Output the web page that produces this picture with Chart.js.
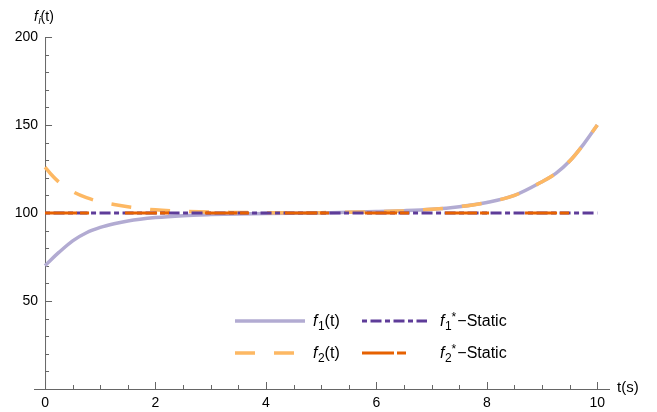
<!DOCTYPE html>
<html>
<head>
<meta charset="utf-8">
<script src="https://cdn.jsdelivr.net/npm/chart.js@4.4.0/dist/chart.umd.min.js"></script>
<style>
  html, body { margin: 0; padding: 0; background: #fff; }
  #wrap { width: 657px; height: 412px; position: relative; }
</style>
</head>
<body>
<div id="wrap"><canvas id="chart" width="657" height="412"></canvas></div>
<script>
// data
const tValues   = [0, 0.1, 0.25, 0.5, 0.75, 1, 1.25, 1.5, 2, 2.5, 3, 3.5, 4, 5, 6, 6.5, 7, 7.5, 8, 8.5, 9, 9.25, 9.5, 9.75, 10];
const f1Values  = [70, 73.2, 77.6, 84.2, 88.8, 91.8, 93.9, 95.5, 97.4, 98.5, 99.1, 99.5, 99.75, 100.05, 100.8, 101.3, 102.1, 103.6, 106, 110, 117.8, 122.5, 129.5, 139, 150];
const f2Values  = [126, 122.3, 117.6, 112.2, 108.7, 106.4, 104.8, 103.5, 101.8, 101, 100.5, 100.3, 100.15, 100.2, 100.8, 101.3, 102.1, 103.6, 106, 110, 117.8, 122.5, 129.5, 139, 150];
const staticT   = [0, 10];
const f1Static  = [100, 100];
const f2Static  = [100, 100];
const xTickLabels = [0, 2, 4, 6, 8, 10];
const yTickLabels = [50, 100, 150, 200];

const FONT = '"Liberation Sans", Arial, sans-serif';
const AXIS_COLOR = '#666666';

function pts(xs, ys) {
  return xs.map((x, i) => ({ x: x, y: ys[i] }));
}

// axes drawn Mathematica style: through the origin, ticks pointing inward
const axesPlugin = {
  id: 'mmaAxes',
  beforeDatasetsDraw(chart) {
    const ctx = chart.ctx;
    const xs = chart.scales.x, ys = chart.scales.y;
    const area = chart.chartArea;
    const y0 = ys.getPixelForValue(0);
    const x0 = xs.getPixelForValue(0);
    ctx.save();
    ctx.strokeStyle = AXIS_COLOR;
    ctx.lineWidth = 1;
    ctx.beginPath();
    ctx.moveTo(area.left, y0 + 0.5);
    ctx.lineTo(area.right, y0 + 0.5);
    ctx.moveTo(x0 + 0.5, y0);
    ctx.lineTo(x0 + 0.5, ys.getPixelForValue(200));
    // x ticks every 0.5
    for (let v = 0; v <= 10; v += 0.5) {
      const px = Math.round(xs.getPixelForValue(v)) + 0.5;
      const len = xTickLabels.includes(v) ? 7 : 4;
      ctx.moveTo(px, y0);
      ctx.lineTo(px, y0 - len);
    }
    // y ticks every 10
    for (let v = 0; v <= 200; v += 10) {
      const py = Math.round(ys.getPixelForValue(v)) + 0.5;
      const len = v % 50 === 0 ? 7 : 4;
      ctx.moveTo(x0, py);
      ctx.lineTo(x0 + len, py);
    }
    ctx.stroke();

    ctx.fillStyle = '#000';
    ctx.font = '14px ' + FONT;
    ctx.textAlign = 'center';
    ctx.textBaseline = 'top';
    xTickLabels.forEach(v => ctx.fillText(String(v), xs.getPixelForValue(v), y0 + 7));
    ctx.textAlign = 'right';
    ctx.textBaseline = 'middle';
    yTickLabels.forEach(v => ctx.fillText(String(v), x0 - 7, ys.getPixelForValue(v)));

    // axis titles
    ctx.textAlign = 'left';
    ctx.font = '15px ' + FONT;
    ctx.fillText('t(s)', 617, y0 - 1);
    drawLabel(ctx, 34, 17, 'i', '', '(t)', 14);
    ctx.restore();
  }
};

function drawLabel(ctx, x, y, sub, sup, tail, size) {
  ctx.textAlign = 'left';
  ctx.textBaseline = 'middle';
  ctx.font = 'italic ' + size + 'px ' + FONT;
  ctx.fillText('f', x, y);
  x += ctx.measureText('f').width + 0.5;
  ctx.font = (sub === 'i' ? 'italic ' : '') + Math.round(size * 0.72) + 'px ' + FONT;
  ctx.fillText(sub, x, y + size * 0.28);
  x += ctx.measureText(sub).width;
  if (sup) {
    ctx.fillText(sup, x, y - size * 0.3);
    x += ctx.measureText(sup).width + 1;
  }
  ctx.font = size + 'px ' + FONT;
  ctx.fillText(tail, x, y);
}

// two-column legend inside the plot
const legendPlugin = {
  id: 'mmaLegend',
  afterDraw(chart) {
    const ctx = chart.ctx;
    const slots = [[235, 321], [235, 353], [362, 321], [362, 353]];
    const lens = [70, 70, 65, 65];
    chart.data.datasets.forEach((ds, i) => {
      const [lx, ly] = slots[i];
      ctx.save();
      ctx.strokeStyle = ds.borderColor;
      ctx.lineWidth = ds.borderWidth;
      ctx.setLineDash(ds.borderDash || []);
      ctx.beginPath();
      ctx.moveTo(lx, ly);
      ctx.lineTo(lx + lens[i], ly);
      ctx.stroke();
      ctx.setLineDash([]);
      ctx.fillStyle = '#000';
      const p = ds.legendParts;
      drawLabel(ctx, lx + 78, ly + 1, p.sub, p.sup, p.tail, 16);
      ctx.restore();
    });
  }
};

new Chart(document.getElementById('chart'), {
  type: 'line',
  data: {
    datasets: [
      {
        label: 'f1(t)', legendParts: { sub: '1', sup: '', tail: '(t)' },
        data: pts(tValues, f1Values),
        borderColor: '#B2ABD2', borderWidth: 3.5, order: 4,
        cubicInterpolationMode: 'monotone'
      },
      {
        label: 'f2(t)', legendParts: { sub: '2', sup: '', tail: '(t)' },
        data: pts(tValues, f2Values),
        borderColor: '#FDB863', borderWidth: 3.5, borderDash: [20, 19], order: 3,
        cubicInterpolationMode: 'monotone'
      },
      {
        label: 'f1*-Static', legendParts: { sub: '1', sup: '*', tail: '\u2212Static' },
        data: pts(staticT, f1Static),
        borderColor: '#5E3C99', borderWidth: 3, borderDash: [5, 3.5, 11, 3.5], order: 2
      },
      {
        label: 'f2*-Static', legendParts: { sub: '2', sup: '*', tail: '\u2212Static' },
        data: pts(staticT, f2Static),
        borderColor: '#E66101', borderWidth: 3, borderDash: [32, 3, 9, 36], order: 1
      }
    ]
  },
  options: {
    responsive: false,
    animation: false,
    layout: { padding: { left: 34, right: 47, top: 37, bottom: 23 } },
    elements: { point: { radius: 0 }, line: { fill: false, borderCapStyle: 'butt' } },
    scales: {
      x: { type: 'linear', min: -0.2, max: 10.23, display: false },
      y: { type: 'linear', min: 0, max: 200, display: false }
    },
    plugins: { legend: { display: false }, tooltip: { enabled: false } }
  },
  plugins: [axesPlugin, legendPlugin]
});
</script>
</body>
</html>
